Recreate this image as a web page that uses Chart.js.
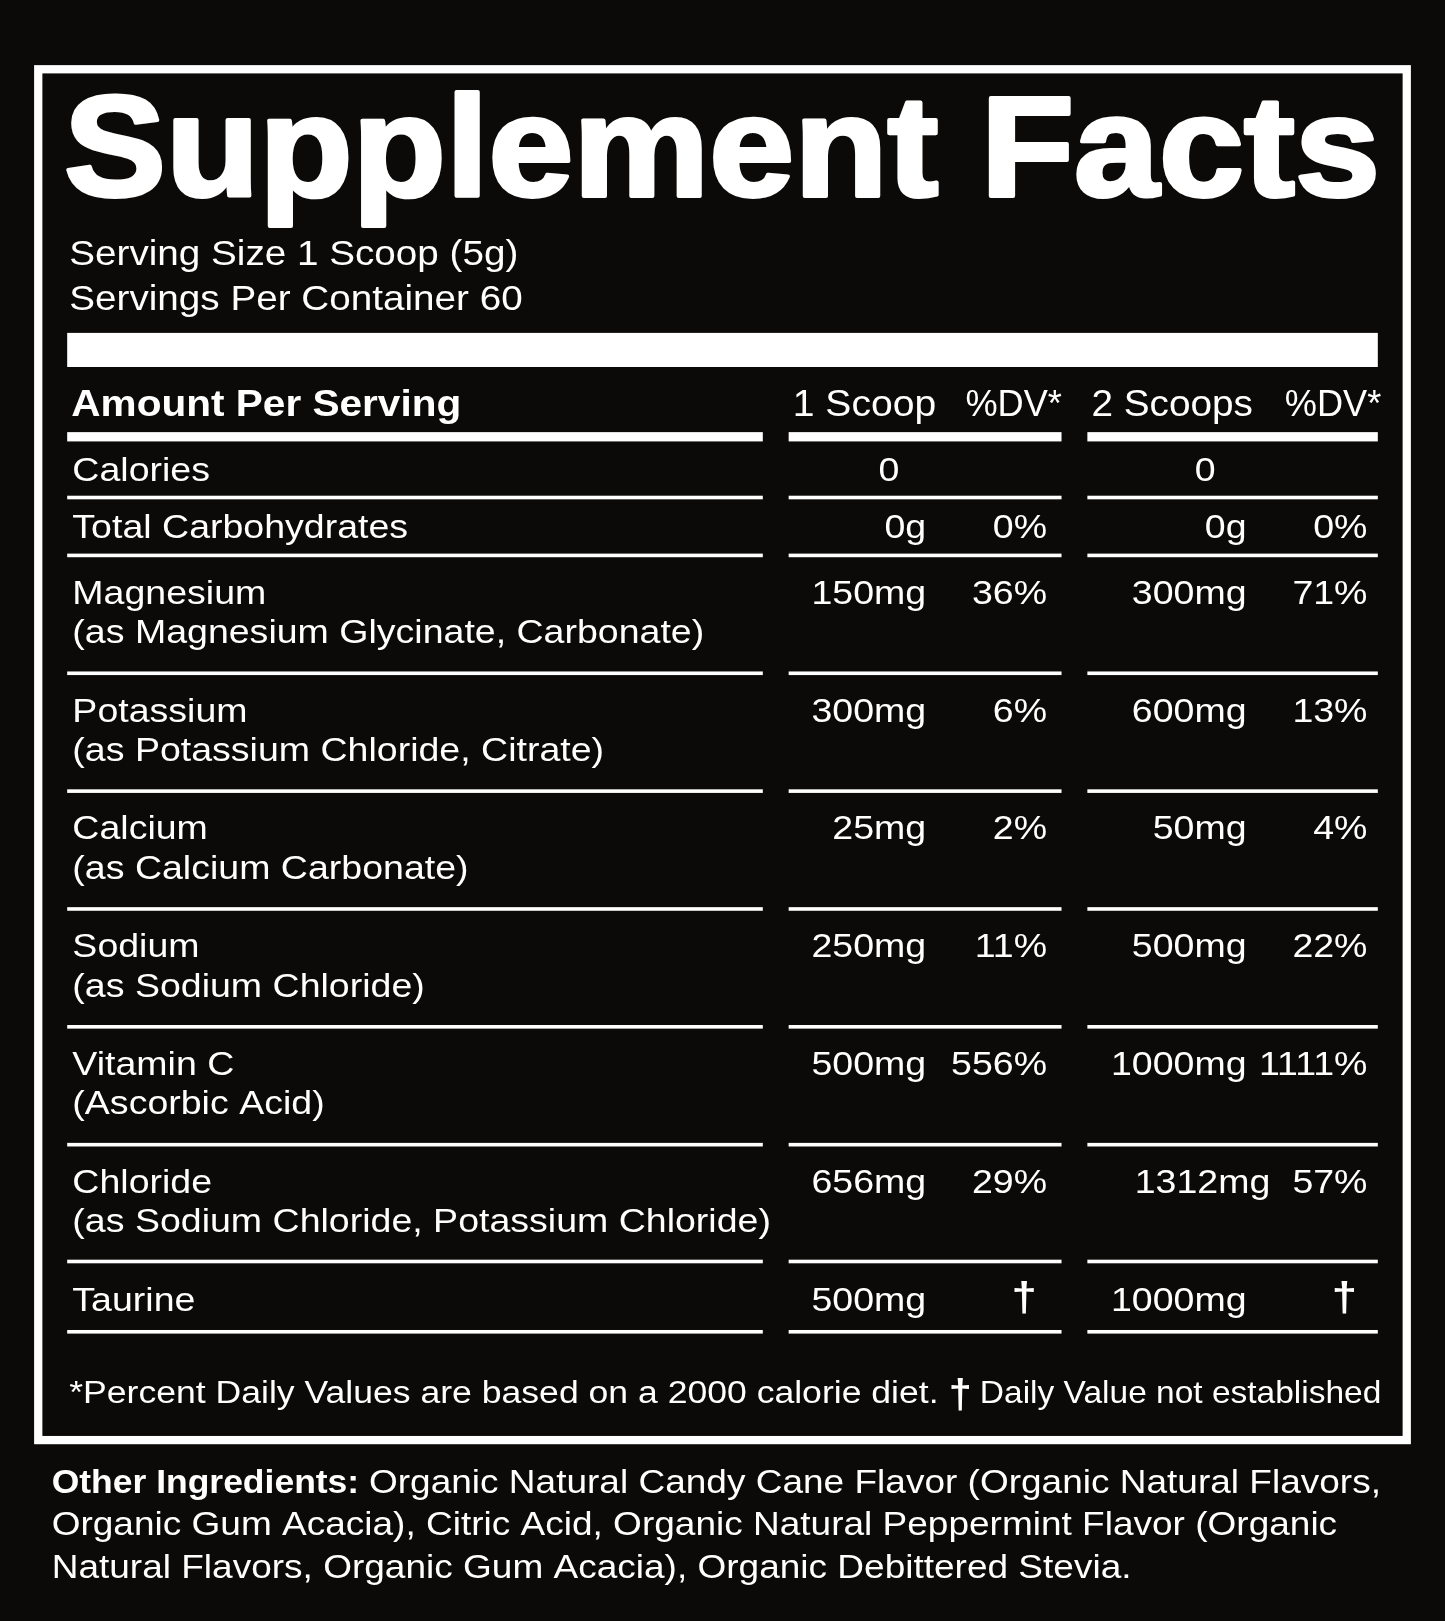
<!DOCTYPE html>
<html>
<head>
<meta charset="utf-8">
<script src="https://cdn.jsdelivr.net/npm/chart.js@4.4.1/dist/chart.umd.min.js"></script>
<style>
  html, body { margin: 0; padding: 0; background: #0c0a09; }
  #wrap { width: 1445px; height: 1621px; }
</style>
</head>
<body>
<div id="wrap"><canvas id="label"></canvas></div>
<script>
const nutrients = ['Calories', 'Total Carbohydrates', 'Magnesium', 'Potassium', 'Calcium', 'Sodium', 'Vitamin C', 'Chloride', 'Taurine'];
const sources = ['', '', '(as Magnesium Glycinate, Carbonate)', '(as Potassium Chloride, Citrate)', '(as Calcium Carbonate)', '(as Sodium Chloride)', '(Ascorbic Acid)', '(as Sodium Chloride, Potassium Chloride)', ''];
const oneScoop = ['0', '0g', '150mg', '300mg', '25mg', '250mg', '500mg', '656mg', '500mg'];
const oneScoopDV = ['', '0%', '36%', '6%', '2%', '11%', '556%', '29%', '†'];
const twoScoops = ['0', '0g', '300mg', '600mg', '50mg', '500mg', '1000mg', '1312mg', '1000mg'];
const twoScoopsDV = ['', '0%', '71%', '13%', '4%', '22%', '1111%', '57%', '†'];
const columnHeads = ['1 Scoop', '%DV*', '2 Scoops', '%DV*'];
const servingLines = ['Serving Size 1 Scoop (5g)', 'Servings Per Container 60'];
const footnote = '*Percent Daily Values are based on a 2000 calorie diet.';
const footnote2 = 'Daily Value not established';
const otherIngredients = [
  ['Other Ingredients: ', 'Organic Natural Candy Cane Flavor (Organic Natural Flavors,'],
  ['', 'Organic Gum Acacia), Citric Acid, Organic Natural Peppermint Flavor (Organic'],
  ['', 'Natural Flavors, Organic Gum Acacia), Organic Debittered Stevia.']
];

const rowBase = [465, 520, 584, 698, 812, 926, 1040, 1154, 1268];
const rowRule = [481, 537, 651, 765, 879, 993, 1107, 1220, 1288];

const FONT = '"Liberation Sans", Arial, sans-serif';
const W = 1398, H = 1568;

// Liberation Sans runs narrower than the label's Helvetica, so stretch it a bit
function wide(ctx, s, x, y, sx) {
  ctx.save();
  ctx.translate(x, y);
  ctx.scale(sx, 1);
  ctx.fillText(s, 0, 0);
  ctx.restore();
  return ctx.measureText(s).width * sx;
}

const labelPlugin = {
  id: 'label',
  beforeDraw(chart) {
    const ctx = chart.ctx;
    ctx.save();
    ctx.scale(chart.width / W, chart.height / H);
    ctx.fillStyle = '#0c0a09';
    ctx.fillRect(0, 0, W, H);
    ctx.fillStyle = '#fff';
    ctx.strokeStyle = '#fff';

    ctx.lineWidth = 8;
    ctx.strokeRect(37, 67, 1324, 1326);

    ctx.font = `bold 145px ${FONT}`;
    ctx.textBaseline = 'alphabetic';
    const tw = ctx.measureText('Supplement Facts').width;
    ctx.save();
    ctx.translate(62, 190);
    ctx.scale(1273 / tw, 0.95);
    ctx.lineWidth = 4; ctx.lineJoin = 'round';
    ctx.fillText('Supplement Facts', 0, 0);
    ctx.strokeText('Supplement Facts', 0, 0);
    ctx.restore();

    const SX = 1.1;
    ctx.font = `34px ${FONT}`;
    wide(ctx, servingLines[0], 67, 256, SX);
    wide(ctx, servingLines[1], 67, 300, SX);

    ctx.fillRect(65, 322, 1268, 33);

    ctx.font = `bold 36px ${FONT}`;
    wide(ctx, 'Amount Per Serving', 69, 402, 1.09);
    ctx.font = `35px ${FONT}`;
    wide(ctx, columnHeads[0], 767, 402, 1.08);
    wide(ctx, columnHeads[1], 934, 402, 1.0);
    wide(ctx, columnHeads[2], 1056, 402, 1.07);
    wide(ctx, columnHeads[3], 1243, 402, 1.0);

    const segs = [[65, 738], [763, 1027], [1052, 1333]];
    segs.forEach(([a, b]) => ctx.fillRect(a, 418, b - a, 9));

    nutrients.forEach((n, i) => {
      ctx.font = `33px ${FONT}`;
      ctx.textAlign = 'left';
      wide(ctx, n, 70, rowBase[i], SX);
      if (sources[i]) wide(ctx, sources[i], 70, rowBase[i] + 38, SX);
      const dag = oneScoopDV[i] === '†';
      if (i === 0) {
        ctx.textAlign = 'center';
        wide(ctx, oneScoop[i], 860, rowBase[i], SX);
        wide(ctx, twoScoops[i], 1166, rowBase[i], SX);
      } else {
        ctx.textAlign = 'right';
        wide(ctx, oneScoop[i], 896, rowBase[i], SX);
        wide(ctx, twoScoops[i], i === 7 ? 1229 : 1206, rowBase[i], SX);
        if (dag) ctx.font = `bold 40px ${FONT}`;
        wide(ctx, oneScoopDV[i], dag ? 1003 : 1013, rowBase[i], SX);
        wide(ctx, twoScoopsDV[i], dag ? 1313 : 1323, rowBase[i], SX);
      }
      segs.forEach(([a, b]) => ctx.fillRect(a, rowRule[i] - 1.5, b - a, 3.5));
    });

    ctx.textAlign = 'left';
    ctx.font = `31px ${FONT}`;
    wide(ctx, footnote, 67, 1357, 1.11);
    ctx.font = `bold 40px ${FONT}`;
    ctx.fillText('†', 918, 1362);
    ctx.font = `30px ${FONT}`;
    wide(ctx, footnote2, 948, 1357, 1.08);

    const ob = [1444, 1485, 1526];
    otherIngredients.forEach(([b, t], i) => {
      let x = 50;
      if (b) {
        ctx.font = `bold 33px ${FONT}`;
        x += wide(ctx, b, x, ob[i], 1.04);
      }
      ctx.font = `33px ${FONT}`;
      wide(ctx, t, x, ob[i], 1.085);
    });
    ctx.restore();
  }
};

new Chart(document.getElementById('label'), {
  type: 'bar',
  data: { labels: nutrients, datasets: [{ data: [], backgroundColor: 'transparent' }] },
  options: {
    responsive: true,
    maintainAspectRatio: false,
    animation: false,
    events: [],
    layout: { padding: 0 },
    scales: { x: { display: false }, y: { display: false } },
    plugins: { legend: { display: false }, tooltip: { enabled: false } }
  },
  plugins: [labelPlugin]
});
</script>
</body>
</html>
